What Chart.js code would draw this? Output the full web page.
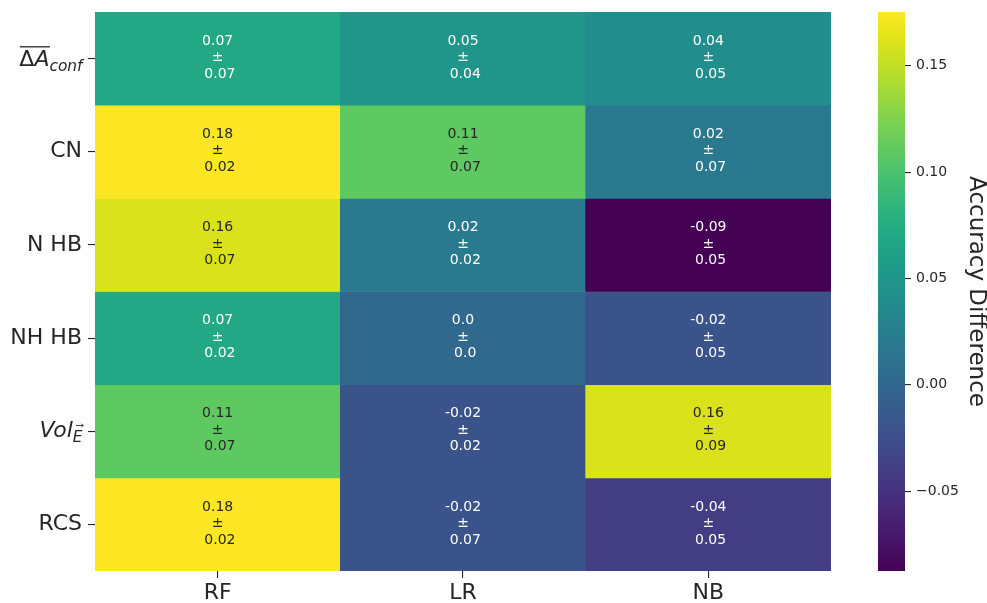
<!DOCTYPE html>
<html>
<head>
<meta charset="utf-8">
<script src="https://cdn.jsdelivr.net/npm/chart.js@4/dist/chart.umd.min.js"></script>
<style>
  html, body { margin: 0; padding: 0; background: #ffffff; }
  #wrap { position: relative; width: 987px; height: 603px; }
  #wrap canvas { position: absolute; left: 0; top: 0; }
</style>
</head>
<body>
<div id="wrap">
  <canvas id="heat" width="987" height="603"></canvas>
  <canvas id="cbar" width="987" height="603"></canvas>
</div>
<script>
// Models (columns) and features (rows)
const models = ['RF', 'LR', 'NB'];
const features = ['ΔA_conf', 'CN', 'N HB', 'NH HB', 'Vol_E', 'RCS'];

// Mean accuracy difference and its spread, one array per model (rows follow `features`)
const rfMean = [0.07, 0.18, 0.16, 0.07, 0.11, 0.18];
const rfStd  = [0.07, 0.02, 0.07, 0.02, 0.07, 0.02];
const lrMean = [0.05, 0.11, 0.02, 0.0, -0.02, -0.02];
const lrStd  = [0.04, 0.07, 0.02, 0.0, 0.02, 0.07];
const nbMean = [0.04, 0.02, -0.09, -0.02, 0.16, -0.04];
const nbStd  = [0.05, 0.07, 0.05, 0.05, 0.09, 0.05];

// Colour scale limits and colour bar ticks
const colorMin = -0.0876;
const colorMax = 0.1753;
const colorbarTicks = [-0.05, 0.0, 0.05, 0.10, 0.15];

const meanCols = [rfMean, lrMean, nbMean];
const stdCols = [rfStd, lrStd, nbStd];

const FONT = '"DejaVu Sans", "Liberation Sans", sans-serif';
const INK = '#262626';

// viridis colour map, 21 evenly spaced samples
const VIRIDIS = ['#440154','#471365','#482475','#463480','#414487','#3b528b','#355f8d',
  '#2f6c8e','#2a788e','#25848e','#21918c','#1e9c89','#22a884','#2fb47c','#44bf70',
  '#5ec962','#7ad151','#9bd93c','#bddf26','#dfe318','#fde725'];
function hexToRgb(h) {
  return [parseInt(h.slice(1, 3), 16), parseInt(h.slice(3, 5), 16), parseInt(h.slice(5, 7), 16)];
}
const VIRIDIS_RGB = VIRIDIS.map(hexToRgb);
function viridisRgb(t) {
  t = Math.max(0, Math.min(1, t));
  const p = t * (VIRIDIS_RGB.length - 1);
  const i = Math.min(Math.floor(p), VIRIDIS_RGB.length - 2);
  const f = p - i;
  const a = VIRIDIS_RGB[i], b = VIRIDIS_RGB[i + 1];
  return [0, 1, 2].map(k => Math.round(a[k] + (b[k] - a[k]) * f));
}
function norm(v) { return (v - colorMin) / (colorMax - colorMin); }
function rgbStr(c) { return `rgb(${c[0]},${c[1]},${c[2]})`; }
function luminance(c) {
  const lin = c.map(x => { x /= 255; return x <= 0.03928 ? x / 12.92 : Math.pow((x + 0.055) / 1.055, 2.4); });
  return 0.2126 * lin[0] + 0.7152 * lin[1] + 0.0722 * lin[2];
}
function fmt(v) { return Number.isInteger(v) ? v.toFixed(1) : String(v); }

// Rows whose names are drawn as math text
const isMath = name => name.includes('_');

// Cell annotations: "mean / ± / std"
const annotations = {
  id: 'annotations',
  afterDatasetsDraw(chart) {
    const ctx = chart.ctx;
    ctx.save();
    ctx.font = `14px ${FONT}`;
    ctx.textAlign = 'center';
    ctx.textBaseline = 'middle';
    const spaceW = ctx.measureText(' ').width;
    chart.data.datasets.forEach((ds, r) => {
      const meta = chart.getDatasetMeta(r);
      meta.data.forEach((el, c) => {
        const cx = el.x;
        const cy = (el.y + el.base) / 2;
        const col = viridisRgb(norm(meanCols[c][r]));
        ctx.fillStyle = luminance(col) > 0.408 ? INK : '#ffffff';
        ctx.fillText(fmt(meanCols[c][r]), cx, cy - 17.5);
        ctx.fillText('±', cx, cy - 1);
        ctx.fillText(fmt(stdCols[c][r]), cx + spaceW / 2, cy + 15.5);
      });
    });
    ctx.restore();
  }
};

// Math-style row names on the y axis
const mathLabels = {
  id: 'mathLabels',
  afterDraw(chart) {
    const ctx = chart.ctx;
    const ys = chart.scales.y;
    const rightX = 82.5;
    const main = `22px ${FONT}`;
    const ital = `oblique 22px ${FONT}`;
    const sub = `oblique 15.4px ${FONT}`;
    ctx.save();
    ctx.fillStyle = INK;
    ctx.strokeStyle = INK;
    ctx.textAlign = 'left';
    ctx.textBaseline = 'alphabetic';
    features.forEach((name, r) => {
      if (!isMath(name)) return;
      const cy = ys.getPixelForValue(r + 0.5);
      if (name === 'ΔA_conf') {
        ctx.font = main; const wD = ctx.measureText('Δ').width;
        ctx.font = ital; const wA = ctx.measureText('A').width;
        ctx.font = sub; const wS = ctx.measureText('conf').width;
        const x0 = rightX - (wD + wA + wS);
        ctx.font = main; ctx.fillText('Δ', x0, cy + 7.7);
        ctx.font = ital; ctx.fillText('A', x0 + wD, cy + 7.7);
        ctx.font = sub; ctx.fillText('conf', x0 + wD + wA, cy + 12.7);
        ctx.lineWidth = 1.3;
        ctx.beginPath();
        ctx.moveTo(x0 + 0.5, cy - 11.8);
        ctx.lineTo(x0 + wD + wA + 0.5, cy - 11.8);
        ctx.stroke();
      } else if (name === 'Vol_E') {
        ctx.font = ital; const wV = ctx.measureText('Vol').width;
        ctx.font = sub; const wE = ctx.measureText('E').width;
        const x0 = rightX - (wV + wE);
        ctx.font = ital; ctx.fillText('Vol', x0, cy + 5.5);
        ctx.font = sub; ctx.fillText('E', x0 + wV, cy + 11);
        // vector arrow above the subscript
        const ax0 = x0 + wV + 3.2, ax1 = x0 + wV + wE + 0.8, ay = cy - 5.8;
        ctx.lineWidth = 0.9;
        ctx.beginPath();
        ctx.moveTo(ax0, ay); ctx.lineTo(ax1, ay);
        ctx.moveTo(ax1 - 2, ay - 1.6); ctx.lineTo(ax1, ay); ctx.lineTo(ax1 - 2, ay + 1.6);
        ctx.stroke();
      }
    });
    ctx.restore();
  }
};

new Chart(document.getElementById('heat'), {
  type: 'bar',
  data: {
    labels: models,
    datasets: features.map((name, r) => ({
      label: name,
      data: models.map(() => 1),
      backgroundColor: meanCols.map(col => rgbStr(viridisRgb(norm(col[r])))),
      borderWidth: 0,
      barPercentage: 1,
      categoryPercentage: 1
    }))
  },
  options: {
    responsive: false,
    animation: false,
    devicePixelRatio: 1,
    layout: { padding: { left: 0, right: 156, top: 12, bottom: 0 } },
    plugins: { legend: { display: false }, tooltip: { enabled: false } },
    scales: {
      x: {
        stacked: true,
        border: { display: false },
        grid: { offset: false, drawOnChartArea: false, drawTicks: true, tickLength: 7, tickColor: INK, lineWidth: 1.1 },
        ticks: { font: { family: FONT, size: 22 }, color: INK, padding: 2 },
        afterFit(s) { s.height = 32; }
      },
      y: {
        stacked: true,
        min: 0,
        max: 6,
        reverse: true,
        border: { display: false },
        grid: { drawOnChartArea: false, drawTicks: true, tickLength: 7, tickColor: INK, lineWidth: 1.1 },
        afterBuildTicks(s) { s.ticks = features.map((_, i) => ({ value: i + 0.5 })); },
        ticks: {
          autoSkip: false,
          font: { family: FONT, size: 22, lineHeight: 0.5 },
          color: INK,
          padding: 6,
          callback: (v, i) => (isMath(features[i]) ? '' : features[i])
        },
        afterFit(s) { s.width = 95; }
      }
    }
  },
  plugins: [annotations, mathLabels]
});

// Colour bar: one floating bar spanning the colour range, filled with the viridis ramp
new Chart(document.getElementById('cbar'), {
  type: 'bar',
  data: {
    labels: [''],
    datasets: [{
      data: [[colorMin, colorMax]],
      backgroundColor(context) {
        const area = context.chart.chartArea;
        if (!area) return VIRIDIS[10];
        const g = context.chart.ctx.createLinearGradient(0, area.bottom, 0, area.top);
        VIRIDIS.forEach((c, i) => g.addColorStop(i / (VIRIDIS.length - 1), c));
        return g;
      },
      borderWidth: 0,
      barPercentage: 1,
      categoryPercentage: 1
    }]
  },
  options: {
    responsive: false,
    animation: false,
    devicePixelRatio: 1,
    layout: { padding: { left: 878, right: 0, top: 12, bottom: 32 } },
    plugins: { legend: { display: false }, tooltip: { enabled: false } },
    scales: {
      x: { display: false },
      y: {
        position: 'right',
        min: colorMin,
        max: colorMax,
        border: { display: false },
        grid: { drawOnChartArea: false, drawTicks: true, tickLength: 6, tickColor: INK, lineWidth: 1.1 },
        afterBuildTicks(s) { s.ticks = colorbarTicks.map(v => ({ value: v })); },
        ticks: {
          font: { family: FONT, size: 14, lineHeight: 1 },
          color: INK,
          padding: 5,
          callback: v => v.toFixed(2).replace('-', '\u2212')
        },
        title: {
          display: true,
          text: 'Accuracy Difference',
          font: { family: FONT, size: 23, lineHeight: 1 },
          color: INK,
          padding: { top: 0, bottom: 1 }
        },
        afterFit(s) { s.width = 82; }
      }
    }
  }
});
</script>
</body>
</html>
